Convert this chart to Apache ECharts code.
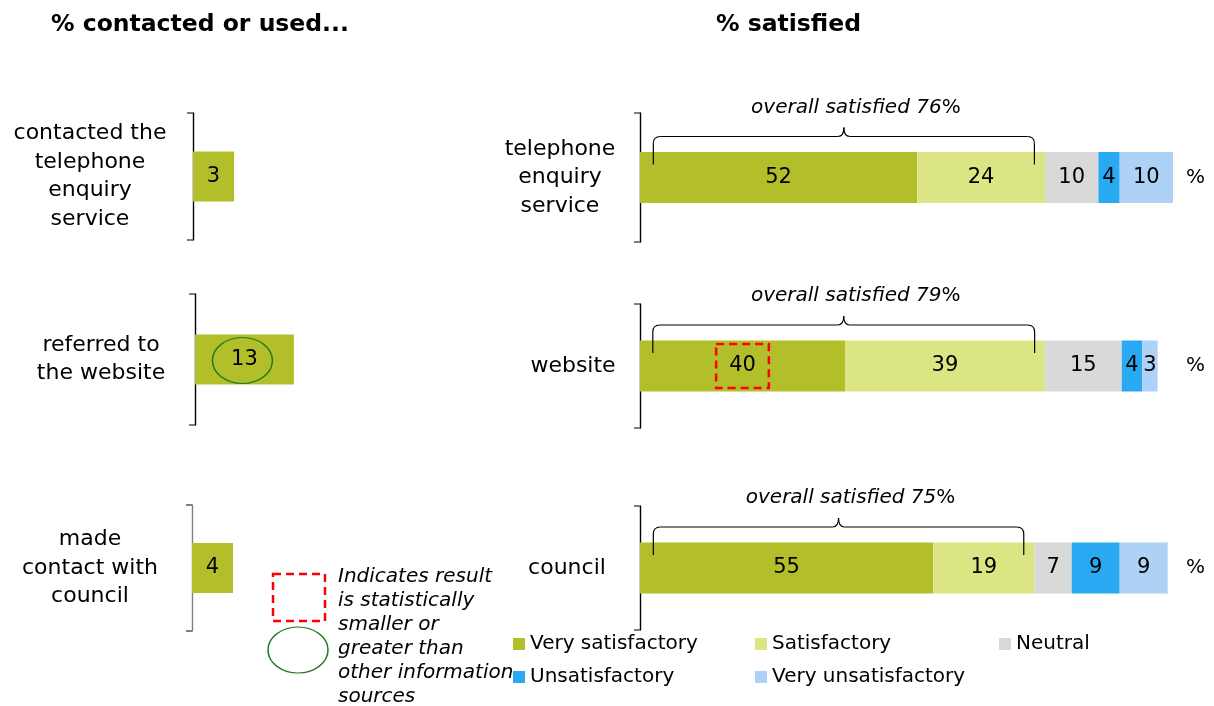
<!DOCTYPE html>
<html lang="en">
<head>
<meta charset="UTF-8">
<title>% contacted or used / % satisfied</title>
<script src="https://cdn.jsdelivr.net/npm/echarts@6/dist/echarts.min.js"></script>
<style>
  * { margin: 0; }
  html, body { height: 100%; background: #fff; }
  #chart { width: 1214px; height: 706px; }
</style>
</head>
<body>
<div id="chart"></div>
<script>
// ---- data ----
const leftCats = ['contacted the\ntelephone\nenquiry\nservice', 'referred to\nthe website', 'made\ncontact with\ncouncil'];
const leftValues = [3, 13, 4];
const rightCats = ['telephone\nenquiry\nservice', 'website', 'council'];
const seriesNames = ['Very satisfactory', 'Satisfactory', 'Neutral', 'Unsatisfactory', 'Very unsatisfactory'];
const verySatisfactory = [52, 40, 55];
const satisfactory = [24, 39, 19];
const neutral = [10, 15, 7];
const unsatisfactory = [4, 4, 9];
const veryUnsatisfactory = [10, 3, 9];
const overallSatisfied = [76, 79, 75];
const circledLeft = 1;      // "referred to the website" is circled
const dashedRight = 1;      // website "very satisfactory" is boxed

// ---- layout / style ----
const FONT = 'DejaVu Sans';
const colors = ['#b3bf2a', '#dce584', '#d9d9d9', '#29a9f2', '#aed1f6'];
// each small panel was its own chart in the original, with its own scale
const leftPanels = [
  {left: 193, top: 113, height: 127, max: 14.6, labelX: 90, axisColor: '#000'},
  {left: 195, top: 294, height: 131, max: 26.3, labelX: 101, axisColor: '#000'},
  {left: 192, top: 505, height: 126, max: 19.5, labelX: 90, axisColor: '#7f7f7f'}
];
const rightPanels = [
  {top: 113, height: 129, max: 100, labelX: 560},
  {top: 304, height: 124, max: 104, labelX: 573},
  {top: 506, height: 124, max: 100, labelX: 567}
];
const RIGHT_LEFT = 640, RIGHT_W = 533;

const segValues = [verySatisfactory, satisfactory, neutral, unsatisfactory, veryUnsatisfactory];

let grid = [], xAxis = [], yAxis = [], series = [];

function catAxis(i, cat, labelMargin, lineColor) {
  return {
    type: 'category', gridIndex: i, data: [cat], inverse: true,
    axisLine: {show: true, lineStyle: {color: lineColor, width: 1.4}},
    axisTick: {show: true, length: 6, lineStyle: {color: '#555', width: 1.5}},
    axisLabel: {margin: labelMargin, align: 'center', fontSize: 22, lineHeight: 28.5, color: '#000', fontFamily: FONT}
  };
}

leftPanels.forEach((p, i) => {
  grid.push({left: p.left, top: p.top, height: p.height, width: 200});
  xAxis.push({type: 'value', gridIndex: i, min: 0, max: p.max, show: false});
  yAxis.push(catAxis(i, leftCats[i], p.left - p.labelX, p.axisColor));
  series.push({
    type: 'bar', name: 'used', xAxisIndex: i, yAxisIndex: i, barWidth: 50,
    itemStyle: {color: colors[0]},
    label: {show: true, position: 'inside', color: '#000', fontSize: 21, fontFamily: FONT},
    data: [leftValues[i]]
  });
});

rightPanels.forEach((p, j) => {
  const i = j + 3;
  grid.push({left: RIGHT_LEFT, top: p.top, height: p.height, width: RIGHT_W});
  xAxis.push({type: 'value', gridIndex: i, min: 0, max: p.max, show: false});
  yAxis.push(catAxis(i, rightCats[j], RIGHT_LEFT - p.labelX, '#000'));
  segValues.forEach((vals, k) => {
    let d = vals[j];
    if (j === dashedRight && k === 0) {
      d = {value: d, label: {borderColor: '#ff0000', borderWidth: 2.5, borderType: [8, 5], padding: [12, 13, 11, 13]}};
    }
    series.push({
      type: 'bar', name: seriesNames[k], stack: 'p' + j, xAxisIndex: i, yAxisIndex: i, barWidth: 51,
      itemStyle: {color: colors[k]},
      label: {show: true, position: 'inside', color: '#000', fontSize: 21, fontFamily: FONT},
      data: [d]
    });
  });
});
// "%" units on the right of each stacked bar
rightPanels.forEach((p, j) => {
  yAxis.push({
    type: 'category', gridIndex: j + 3, position: 'right', data: ['%'],
    axisLine: {show: false}, axisTick: {show: false},
    axisLabel: {margin: 13, align: 'left', fontSize: 20, color: '#000', fontFamily: FONT}
  });
});

const legendBase = {
  orient: 'vertical', top: 629, itemWidth: 12, itemHeight: 12, itemGap: 13, icon: 'rect',
  textStyle: {fontSize: 20, color: '#000', fontFamily: FONT}, selectedMode: false
};

const chart = echarts.init(document.getElementById('chart'));
chart.setOption({
  animation: false,
  textStyle: {fontFamily: FONT},
  title: [
    {text: '% contacted or used...', left: 46, top: 8, textStyle: {fontSize: 23.5, fontWeight: 'bold', color: '#000', fontFamily: FONT}},
    {text: '% satisfied', left: 711, top: 8, textStyle: {fontSize: 23.5, fontWeight: 'bold', color: '#000', fontFamily: FONT}}
  ],
  legend: [
    Object.assign({left: 508, data: [seriesNames[0], seriesNames[3]]}, legendBase),
    Object.assign({left: 750, data: [seriesNames[1], seriesNames[4]]}, legendBase),
    Object.assign({left: 994, data: [seriesNames[2]]}, legendBase)
  ],
  grid: grid, xAxis: xAxis, yAxis: yAxis, series: series
});

// ---- annotations: braces, overall text, markers ----
const graphics = [];
const braceStyle = {stroke: '#000', lineWidth: 1.2, fill: null};
function seg(x1, y1, x2, y2) {
  graphics.push({type: 'line', silent: true, z: 100, shape: {x1: x1, y1: y1, x2: x2, y2: y2}, style: braceStyle});
}
function curve(x1, y1, cx, cy, x2, y2) {
  graphics.push({type: 'bezierCurve', silent: true, z: 100, shape: {x1: x1, y1: y1, cpx1: cx, cpy1: cy, x2: x2, y2: y2}, style: braceStyle});
}
function ellipse(cx, cy, rx, ry) {
  graphics.push({
    type: 'group', x: cx, y: cy, scaleY: ry / rx, silent: true,
    children: [{type: 'circle', z: 100, shape: {cx: 0, cy: 0, r: rx}, style: {stroke: '#1f7a1f', lineWidth: 1.5, fill: null, strokeNoScale: true}}]
  });
}

rightPanels.forEach((p, j) => {
  const i = j + 3;
  const py = chart.convertToPixel({xAxisIndex: i, yAxisIndex: i}, [0, rightCats[j]])[1];
  const barTop = py - 25;
  const x1 = chart.convertToPixel({xAxisIndex: i}, 2.5);
  const x2 = chart.convertToPixel({xAxisIndex: i}, verySatisfactory[j] + satisfactory[j] - 2);
  const xm = (x1 + x2) / 2;
  const yl = barTop - 16, ye = barTop + 12, yc = yl - 9, r = 7;
  seg(x1, ye, x1, yl + r);
  curve(x1, yl + r, x1, yl, x1 + r, yl);
  seg(x1 + r, yl, xm - 6, yl);
  curve(xm - 6, yl, xm, yl, xm, yc);
  curve(xm, yc, xm, yl, xm + 6, yl);
  seg(xm + 6, yl, x2 - r, yl);
  curve(x2 - r, yl, x2, yl, x2, yl + r);
  seg(x2, yl + r, x2, ye);
  graphics.push({
    type: 'text', x: xm + 12, y: yl - 29, silent: true, z: 100,
    style: {
      text: `{i|overall satisfied ${overallSatisfied[j]}}{n|%}`,
      align: 'center', verticalAlign: 'middle',
      rich: {i: {fontStyle: 'italic', fontSize: 20, fontFamily: FONT}, n: {fontSize: 20, fontFamily: FONT}},
      fill: '#000'
    }
  });
});
// green ellipse around the circled left bar
const c = chart.convertToPixel({xAxisIndex: circledLeft, yAxisIndex: circledLeft}, [leftValues[circledLeft] / 2, leftCats[circledLeft]]);
ellipse(c[0] - 2, c[1] + 1, 30, 23);
// key for the markers
graphics.push({type: 'rect', silent: true, z: 100, shape: {x: 273, y: 574, width: 52, height: 47}, style: {stroke: '#ff0000', lineWidth: 2.5, lineDash: [8, 5], fill: null}});
ellipse(298, 650, 30, 23);
graphics.push({
  type: 'text', x: 338, y: 565, silent: true, z: 100,
  style: {
    text: 'Indicates result\nis statistically\nsmaller or\ngreater than\nother information\nsources',
    font: 'italic 20px "DejaVu Sans"', lineHeight: 24, fill: '#000'
  }
});
chart.setOption({graphic: graphics});
</script>
</body>
</html>
